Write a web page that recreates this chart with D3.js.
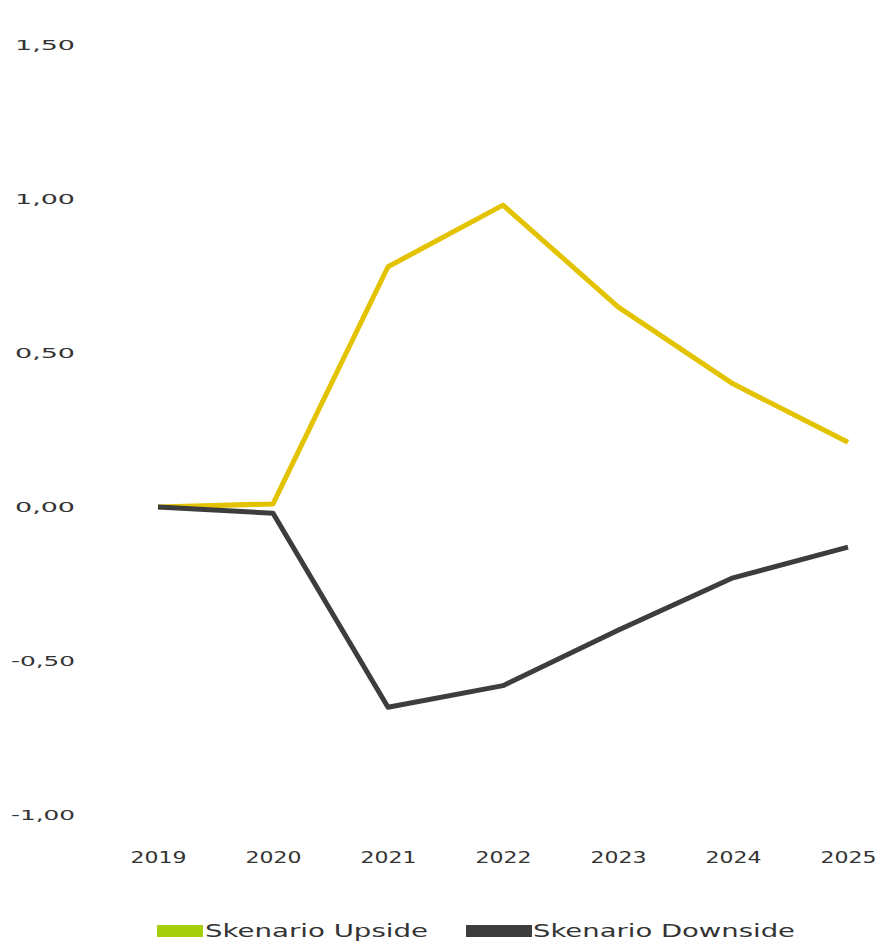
<!DOCTYPE html>
<html>
<head>
<meta charset="utf-8">
<script src="https://cdn.jsdelivr.net/npm/d3@7"></script>
<style>
  body { margin: 0; background: #fff; }
  text { font-family: "DejaVu Sans", sans-serif; fill: #333; }
</style>
</head>
<body>
<svg id="chart"></svg>
<script>
// DATA
const years = ["2019", "2020", "2021", "2022", "2023", "2024", "2025"];
const upside = [0.00, 0.01, 0.78, 0.98, 0.65, 0.40, 0.21];
const downside = [0.00, -0.02, -0.65, -0.58, -0.40, -0.23, -0.13];
const yTicks = [-1, -0.5, 0, 0.5, 1, 1.5];
const seriesNames = ["Skenario Upside", "Skenario Downside"];

// LAYOUT
const width = 879;
const height = 949;
const upColor = "#e3c300";
const upSwatch = "#a6cf0a";
const downColor = "#3d3d3d";

const svg = d3.select("#chart")
  .attr("width", width)
  .attr("height", height);

const x = d3.scalePoint()
  .domain(years)
  .range([158, 848]);

const y = d3.scaleLinear()
  .domain([-1, 1.5])
  .range([815, 45]);

const fmt = (d) => d3.format(".2f")(d).replace(".", ",").replace("−", "-");

// y axis labels (no line, no grid)
const yAxis = svg.append("g")
  .attr("transform", "translate(75,0)")
  .call(d3.axisLeft(y).tickValues(yTicks).tickSize(0).tickPadding(0).tickFormat(fmt));
yAxis.select(".domain").remove();
yAxis.selectAll("text")
  .style("font-family", "DejaVu Sans, sans-serif")
  .style("font-size", "14px")
  .style("fill", "#333")
  .attr("lengthAdjust", "spacingAndGlyphs")
  .attr("textLength", (d) => d < 0 ? 64 : 60);

// x axis labels
const xAxis = svg.append("g")
  .attr("transform", "translate(0,855)")
  .call(d3.axisBottom(x).tickSize(0).tickPadding(0));
xAxis.select(".domain").remove();
xAxis.selectAll("text")
  .style("font-family", "DejaVu Sans, sans-serif")
  .style("font-size", "15px")
  .style("fill", "#333")
  .attr("dy", "0.5em")
  .attr("lengthAdjust", "spacingAndGlyphs")
  .attr("textLength", 56);

const line = d3.line()
  .x((d, i) => x(years[i]))
  .y((d) => y(d));

svg.append("path")
  .datum(upside)
  .attr("d", line)
  .attr("fill", "none")
  .attr("stroke", upColor)
  .attr("stroke-width", 5)
  .attr("stroke-linejoin", "round");

svg.append("path")
  .datum(downside)
  .attr("d", line)
  .attr("fill", "none")
  .attr("stroke", downColor)
  .attr("stroke-width", 5)
  .attr("stroke-linejoin", "round");

// legend
const legend = svg.append("g").attr("transform", "translate(0,931)");
const items = [
  {name: seriesNames[0], color: upSwatch, x0: 157, w: 46, tx: 205, tl: 223},
  {name: seriesNames[1], color: downColor, x0: 466, w: 66, tx: 533, tl: 262}
];
items.forEach(function(it) {
  legend.append("rect")
    .attr("x", it.x0)
    .attr("y", -6)
    .attr("width", it.w)
    .attr("height", 12)
    .attr("fill", it.color);
  legend.append("text")
    .attr("x", it.tx)
    .attr("y", 0)
    .attr("dy", "0.36em")
    .style("font-size", "18px")
    .attr("lengthAdjust", "spacingAndGlyphs")
    .attr("textLength", it.tl)
    .text(it.name);
});
</script>
</body>
</html>
